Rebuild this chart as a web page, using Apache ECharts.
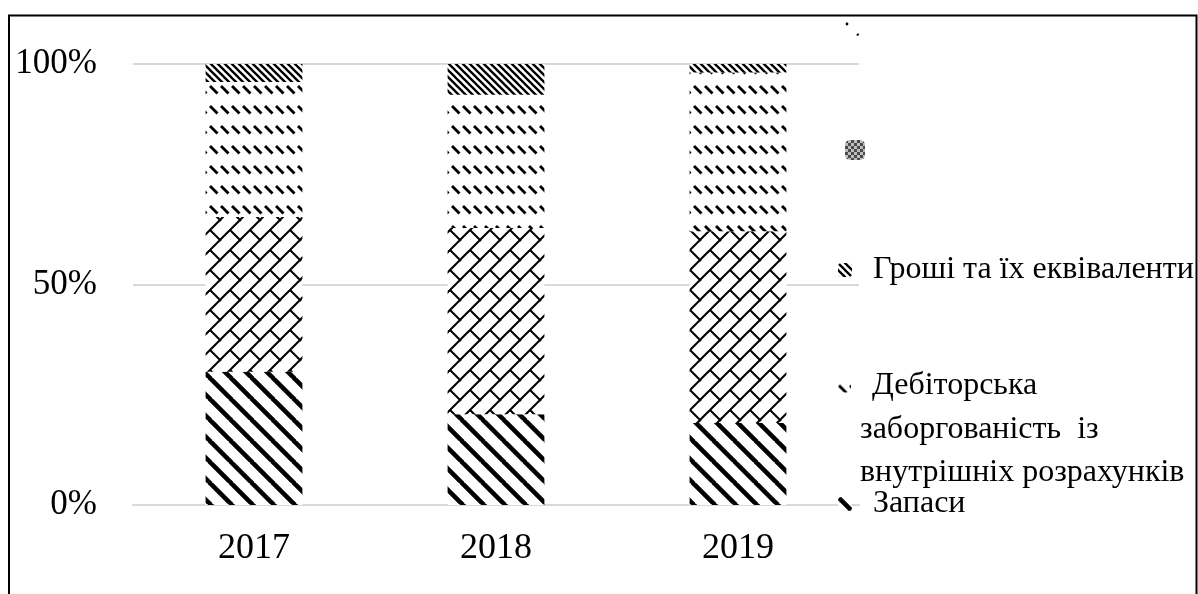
<!DOCTYPE html>
<html>
<head>
<meta charset="utf-8">
<script src="https://cdn.jsdelivr.net/npm/echarts/dist/echarts.min.js"></script>
<style>
  html, body { margin: 0; padding: 0; background: #fff; }
  #chart { width: 1198px; height: 594px; }
</style>
</head>
<body>
<div id="chart"></div>
<script>
// Структура оборотних активів, % (стовпці з накопиченням)
const years = ['2017', '2018', '2019'];
const zapasy = [30.2, 20.6, 18.6];          // Запаси
const ryad2 = [35.1, 42.2, 43.5];           // Ряд 2
const debitorska = [30.6, 30.2, 36.0];      // Дебіторська заборгованість із внутрішніх розрахунків
const groshi = [4.1, 7.0, 1.9];             // Гроші та їх еквіваленти
const ryad5 = [0, 0, 0];                    // Ряд 5
const yTicks = [0, 50, 100];

const SERIF = '"Liberation Serif", "Times New Roman", serif';

// ---- hatch fills drawn on small canvases ----
function tile(w, h, draw) {
  const c = document.createElement('canvas');
  c.width = w; c.height = h;
  const g = c.getContext('2d');
  g.fillStyle = '#fff';
  g.fillRect(0, 0, w, h);
  g.strokeStyle = '#000';
  g.fillStyle = '#000';
  draw(g, w, h);
  return c;
}
function downStripes(T, lw) {
  return tile(T, T, (g) => {
    g.lineWidth = lw;
    g.beginPath();
    for (let k = -1; k <= 1; k++) {
      g.moveTo(k * T - 1, -1);
      g.lineTo(k * T + T + 1, T + 1);
    }
    g.stroke();
  });
}
const patWide = downStripes(21, 4.6);
const patDense = downStripes(7, 2.3);
const patBrick = tile(20, 20, (g, w, h) => {
  g.lineWidth = 2;
  g.beginPath();
  for (let k = -1; k <= 1; k++) {
    g.moveTo(k * w - 1, h + 1);
    g.lineTo(k * w + w + 1, -1);
  }
  g.moveTo(w / 2, h / 2);
  g.lineTo(w + 1, h + 1);
  g.moveTo(-w / 2, -h / 2);
  g.lineTo(1, 1);
  g.stroke();
});
const patDash = tile(11, 20, (g) => {
  g.lineWidth = 2.8;
  g.beginPath();
  g.moveTo(1, 6);
  g.lineTo(8.5, 13.5);
  g.stroke();
});
const patDots = tile(16, 16, (g) => {
  g.beginPath();
  g.arc(3, 4, 1.4, 0, Math.PI * 2);
  g.arc(14, 15, 1.4, 0, Math.PI * 2);
  g.fill();
});
const patChecker = tile(6, 6, (g) => {
  g.fillStyle = '#bdbdbd';
  g.fillRect(0, 0, 6, 6);
  g.fillStyle = '#4a4a4a';
  g.fillRect(0, 0, 3, 3);
  g.fillRect(3, 3, 3, 3);
});
const fill = (img) => ({ image: img, repeat: 'repeat' });

function bar(name, data, img) {
  return {
    name, type: 'bar', stack: 'total', data,
    barWidth: '40%',
    itemStyle: { color: fill(img) },
    emphasis: { disabled: true }
  };
}

function legendItem(name, left, top, w, h, extra) {
  return Object.assign({
    data: [name],
    left, top,
    orient: 'vertical',
    padding: 0,
    itemWidth: w,
    itemHeight: h,
    selectedMode: false,
    textStyle: {
      fontFamily: SERIF, fontSize: 32, color: '#000', lineHeight: 36,
      padding: [0, 0, 0, 16]
    }
  }, extra || {});
}

const chart = echarts.init(document.getElementById('chart'), null, { renderer: 'canvas' });
chart.setOption({
  backgroundColor: '#fff',
  animation: false,
  grid: { left: 133, right: 339, top: 64, bottom: 89 },
  xAxis: {
    type: 'category',
    data: years,
    axisLine: { lineStyle: { color: '#d9d9d9', width: 2 } },
    axisTick: { show: false },
    axisLabel: { fontFamily: SERIF, fontSize: 36, color: '#000', margin: 26 }
  },
  yAxis: {
    type: 'value',
    min: yTicks[0], max: yTicks[yTicks.length - 1], interval: yTicks[1] - yTicks[0],
    axisLine: { show: false },
    axisTick: { show: false },
    splitLine: { lineStyle: { color: '#d9d9d9', width: 2 } },
    axisLabel: { fontFamily: SERIF, fontSize: 35, color: '#000', margin: 36, formatter: '{value}%' }
  },
  legend: [
    legendItem('Ряд 5', 844, 20, 16, 16, { formatter: () => '', textStyle: { fontSize: 1, lineHeight: 16 } }),
    legendItem('Ряд 2', 845, 140, 20, 20, {
      formatter: () => '',
      textStyle: { fontSize: 1, lineHeight: 20 },
      data: [{ name: 'Ряд 2', itemStyle: { color: fill(patChecker) } }]
    }),
    legendItem('Гроші та їх еквіваленти', 838, 252, 14, 14),
    legendItem('Дебіторська заборгованість із внутрішніх розрахунків', 838, 368, 13, 13, {
      formatter: () => 'Дебіторська'
    }),
    legendItem('Запаси', 838, 486, 14, 14)
  ],
  graphic: [
    {
      type: 'text', left: 860, top: 414, silent: true,
      style: { text: 'заборгованість  із', font: '32px ' + SERIF, fill: '#000' }
    },
    {
      type: 'text', left: 860, top: 457, silent: true,
      style: { text: 'внутрішніх розрахунків', font: '32px ' + SERIF, fill: '#000' }
    },
    {
      type: 'rect', silent: true, z: 100,
      shape: { x: 9, y: 15.5, width: 1187.5, height: 620 },
      style: { fill: 'none', stroke: '#000', lineWidth: 2 }
    }
  ],
  series: [
    bar('Запаси', zapasy, patWide),
    bar('Ряд 2', ryad2, patBrick),
    bar('Дебіторська заборгованість із внутрішніх розрахунків', debitorska, patDash),
    bar('Гроші та їх еквіваленти', groshi, patDense),
    bar('Ряд 5', ryad5, patDots)
  ]
});
</script>
</body>
</html>
